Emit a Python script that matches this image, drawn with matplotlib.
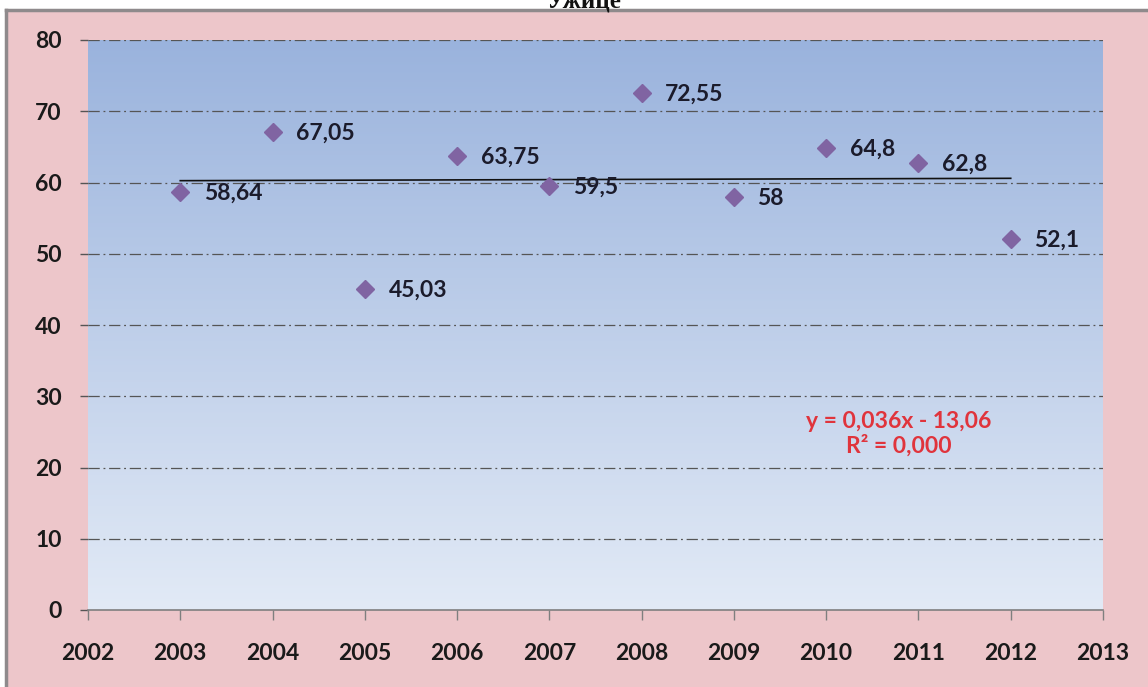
import numpy as np
import matplotlib
matplotlib.use("Agg")
import matplotlib.pyplot as plt
from matplotlib.patches import Rectangle
from matplotlib.lines import Line2D

years = [2003, 2004, 2005, 2006, 2007, 2008, 2009, 2010, 2011, 2012]
values = [58.64, 67.05, 45.03, 63.75, 59.5, 72.55, 58, 64.8, 62.8, 52.1]
labels = ["58,64", "67,05", "45,03", "63,75", "59,5", "72,55", "58", "64,8", "62,8", "52,1"]
x_ticks = list(range(2002, 2014))
y_ticks = list(range(0, 81, 10))
title = "Ужице"
eq_text = "y = 0,036x - 13,06\nR² = 0,000"

plt.rcParams['font.family'] = ['Lato', 'DejaVu Sans']

fig = plt.figure(figsize=(11.48, 6.87), dpi=100)
fig.patch.set_facecolor('white')

# pink frame
fig.patches.append(Rectangle((6/1148, 0), 1, 1 - 10/687, transform=fig.transFigure,
                             facecolor='#edc6ca', edgecolor='none', zorder=-2))
fig.lines.append(Line2D([6/1148, 1], [1 - 10/687, 1 - 10/687], transform=fig.transFigure,
                        color='#8f8a8c', lw=2.5, zorder=-1))
fig.lines.append(Line2D([6/1148, 6/1148], [0, 1 - 10/687], transform=fig.transFigure,
                        color='#8f8a8c', lw=2.5, zorder=-1))

# cut-off title
fig.text(584/1148, 1 - 7/687, title, ha='center', va='baseline', fontsize=18,
         fontweight='bold', family=['Liberation Serif', 'DejaVu Serif'], color='#111111')

ax = fig.add_axes([88/1148, 77/687, 1015/1148, 570/687])
ax.set_zorder(2)
ax.set_xlim(2002, 2013)
ax.set_ylim(0, 80)

# gradient background
grad = np.linspace(0, 1, 256).reshape(-1, 1)
top = np.array([0x9a, 0xb3, 0xdd]) / 255
bot = np.array([0xe2, 0xea, 0xf6]) / 255
img = top[None, None, :] * (1 - grad[:, :, None]) + bot[None, None, :] * grad[:, :, None]
ax.imshow(img, extent=[2002, 2013, 0, 80], aspect='auto', zorder=0)
ax.patch.set_alpha(0)

ax.set_xticks(x_ticks)
ax.set_yticks(y_ticks)
ax.tick_params(axis='both', labelsize=16.5, colors='#1a1a1a', width=1)
ax.tick_params(axis='x', color='#7f7f7f', length=7, pad=17)
ax.tick_params(axis='y', color='#555555', length=6, pad=13)
for lab in ax.get_xticklabels() + ax.get_yticklabels():
    lab.set_fontweight('bold')

for s in ['top', 'right', 'left']:
    ax.spines[s].set_visible(False)
ax.spines['bottom'].set_color('#7f7f7f')
ax.spines['bottom'].set_linewidth(1.2)

for yv in y_ticks[1:]:
    ax.axhline(yv, color='#555555', lw=0.9, ls=(0, (9, 3, 1.5, 3)), zorder=1)

# trend line
coef = np.polyfit(years, values, 1)
tx = np.array([years[0], years[-1]])
ax.plot(tx, np.polyval(coef, tx), color='#111111', lw=1.2, zorder=2)

ax.plot(years, values, ls='none', marker='D', markersize=9.5, color='#8064a2',
        markeredgecolor='#8064a2', zorder=3)
for x, y, t in zip(years, values, labels):
    ax.annotate(t, (x, y), xytext=(17, -1), textcoords='offset points', va='center',
                ha='left', fontsize=16.5, fontweight='bold', color='#1b1b2b', zorder=4)

ax.text(2010.79, 24.7, eq_text, ha='center', va='center', multialignment='center',
        fontsize=16.5, fontweight='bold', color='#e0343c', linespacing=1.1, zorder=4)

fig.savefig('out.png', dpi=100, facecolor=fig.get_facecolor())
